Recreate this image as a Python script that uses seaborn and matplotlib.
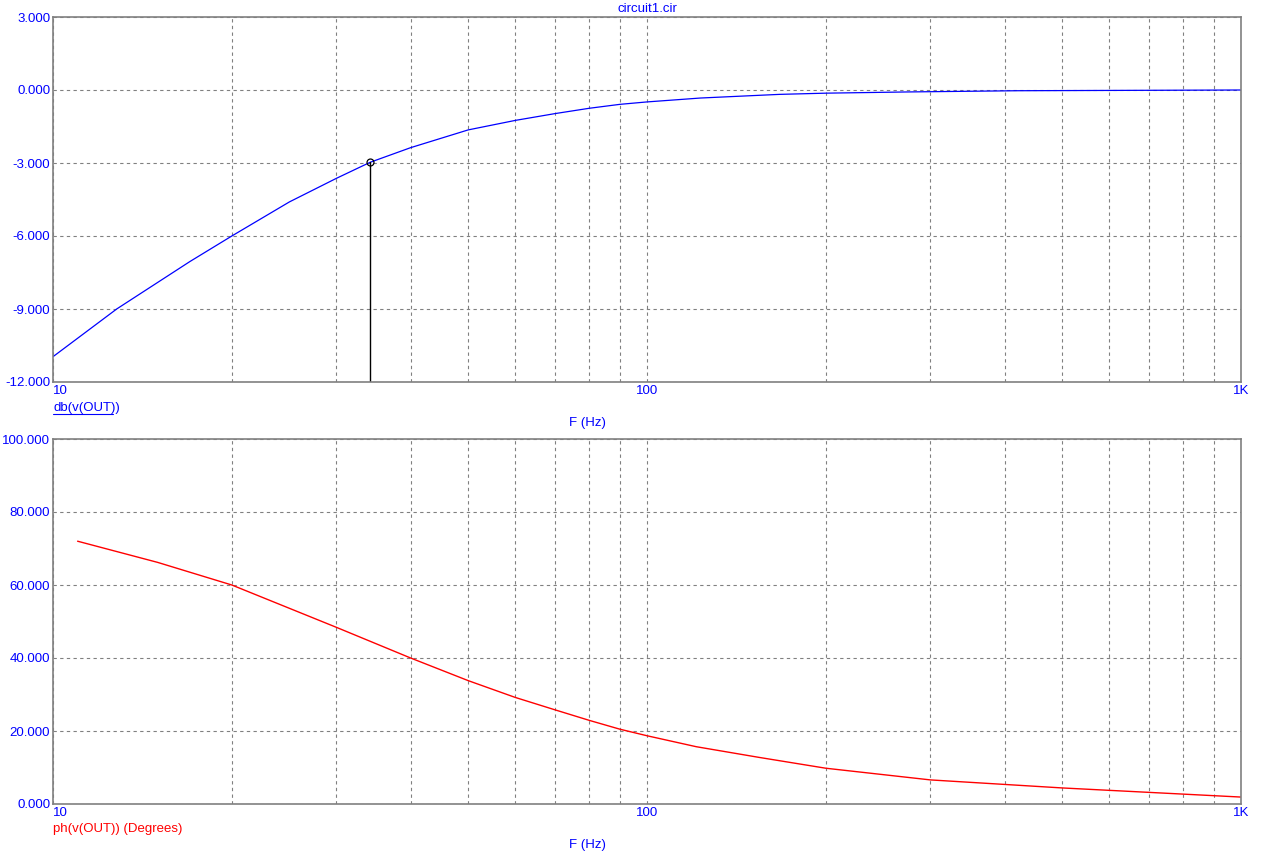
import numpy as np
import pandas as pd
import matplotlib
matplotlib.use("Agg")
import matplotlib.pyplot as plt
import seaborn as sns
from matplotlib.ticker import FixedLocator, NullFormatter

# ---- data ----
freq_db = [10, 12.8, 17, 20, 25, 30, 34.2, 40, 50, 60, 70, 80, 90, 100, 123, 167, 200, 275, 420, 1000]
gain_db = [-10.96, -9.0, -7.05, -6.0, -4.6, -3.63, -2.97, -2.37, -1.64, -1.25, -0.97,
           -0.75, -0.59, -0.49, -0.33, -0.18, -0.13, -0.08, -0.03, 0.0]

freq_ph = [11, 15, 20, 30, 40, 50, 60, 70, 80, 90, 100, 121, 154, 200, 300, 500, 1000]
phase_deg = [72.0, 66.2, 60.0, 48.4, 40.0, 33.8, 29.2, 25.8, 22.9, 20.5, 18.7, 15.7, 12.8,
             9.8, 6.6, 4.4, 1.9]

cursor_f = 34.2
cursor_db = -2.97

db_ticks = [-12, -9, -6, -3, 0, 3]
ph_ticks = [0, 20, 40, 60, 80, 100]
x_ticks = [10, 100, 1000]
x_tick_labels = ["10", "100", "1K"]
title = "circuit1.cir"
top_label = "db(v(OUT))"
bot_label = "ph(v(OUT)) (Degrees)"
x_label = "F (Hz)"

sns.set_style("white")
plt.rcParams['font.family'] = ['Liberation Sans', 'DejaVu Sans']

W, H = 1276, 860
fig = plt.figure(figsize=(W / 100, H / 100), dpi=100)

def fx(px):
    return px / W

def fy(py):
    return 1 - py / H

left, right = 53, 1241
ax1 = fig.add_axes([fx(left), fy(382), fx(right - left), (382 - 17) / H])
ax2 = fig.add_axes([fx(left), fy(804), fx(right - left), (804 - 439) / H])

GRAY = "#808080"
BLUE = "#0000ff"
RED = "#ff0000"
FS = 9.5

df1 = pd.DataFrame({"f": freq_db, "v": gain_db})
df2 = pd.DataFrame({"f": freq_ph, "v": phase_deg})

minor = [m * d for d in (10, 100) for m in range(2, 10)]

def style(ax, yticks, ylim):
    ax.set_xscale("log")
    ax.set_xlim(10, 1000)
    ax.set_ylim(*ylim)
    ax.set_yticks(yticks)
    ax.set_yticklabels([f"{v:.3f}" for v in yticks], color=BLUE, fontsize=FS)
    ax.xaxis.set_major_locator(FixedLocator(x_ticks))
    ax.xaxis.set_minor_locator(FixedLocator(minor))
    ax.xaxis.set_minor_formatter(NullFormatter())
    ax.set_xticklabels(x_tick_labels, color=BLUE, fontsize=FS)
    labs = ax.get_xticklabels()
    labs[0].set_ha("left")
    ax.tick_params(axis="both", which="both", length=0, pad=2)
    ax.grid(True, which="both", axis="x", color=GRAY, linestyle=(0, (3, 3)), linewidth=0.8)
    ax.grid(True, which="major", axis="y", color=GRAY, linestyle=(0, (3, 3)), linewidth=0.8)
    for s in ax.spines.values():
        s.set_color(GRAY)
        s.set_linewidth(1.2)
    ax.set_xlabel("")
    ax.set_ylabel("")

sns.lineplot(data=df1, x="f", y="v", ax=ax1, color=BLUE, linewidth=0.9)
sns.lineplot(data=df2, x="f", y="v", ax=ax2, color=RED, linewidth=1.0)
style(ax1, db_ticks, (-12, 3))
style(ax2, ph_ticks, (0, 100))

# cursor
ax1.plot([cursor_f, cursor_f], [-12, cursor_db], color="black", linewidth=1.0)
ax1.plot([cursor_f], [cursor_db], marker="o", markersize=5, markerfacecolor="none",
         markeredgecolor="black", markeredgewidth=0.9)

# texts
fig.text(fx(647), fy(9), title, color=BLUE, fontsize=FS, ha="center", va="center")
fig.text(fx(53), fy(408), top_label, color=BLUE, fontsize=FS, ha="left", va="center")
fig.add_artist(plt.Line2D([fx(53), fx(113)], [fy(414), fy(414)], color=BLUE, linewidth=0.8))
fig.text(fx(587), fy(423), x_label, color=BLUE, fontsize=FS, ha="center", va="center")
fig.text(fx(53), fy(829), bot_label, color=RED, fontsize=FS, ha="left", va="center")
fig.text(fx(587), fy(845), x_label, color=BLUE, fontsize=FS, ha="center", va="center")

fig.savefig("out.png", dpi=100, facecolor="white")
